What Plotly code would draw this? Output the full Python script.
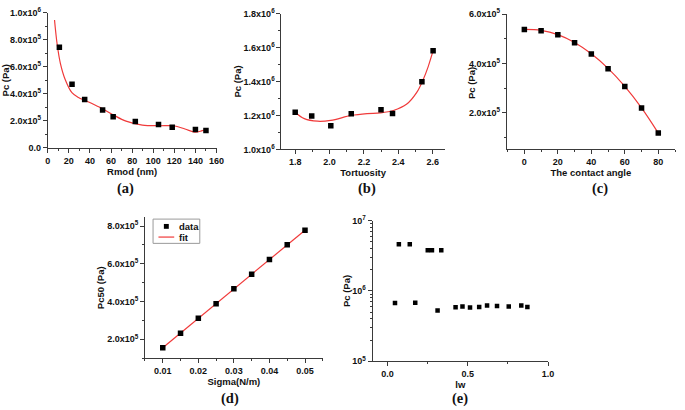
import plotly.graph_objects as go

W, H = 685, 410

# ---------------- data ----------------
# (a) Pc vs Rmod
rmod = [11, 23, 35, 52, 62, 83, 105, 118, 140, 150]
pc_a = [7.45e5, 4.7e5, 3.57e5, 2.8e5, 2.3e5, 1.95e5, 1.72e5, 1.52e5, 1.36e5, 1.28e5]
rmod_fit = [6.4, 8.9, 12, 16.6, 22.9, 29.1, 36.2, 49.3, 61.8, 74.2, 89.7, 105.2, 119.2, 130.1, 139.5, 145.7, 150.4]
pc_a_fit = [9.47e5, 7.67e5, 6.24e5, 5.04e5, 4.08e5, 3.72e5, 3.48e5, 3.0e5, 2.45e5, 1.97e5,
            1.68e5, 1.63e5, 1.63e5, 1.39e5, 1.15e5, 1.25e5, 1.39e5]

# (b) Pc vs tortuosity
tort = [1.80, 1.896, 2.007, 2.126, 2.299, 2.366, 2.537, 2.602]
pc_b = [1.219e6, 1.197e6, 1.139e6, 1.210e6, 1.233e6, 1.211e6, 1.398e6, 1.581e6]
tort_fit = [1.80, 1.853, 1.93, 2.007, 2.126, 2.218, 2.295, 2.371, 2.449, 2.506, 2.544, 2.573, 2.602]
pc_b_fit = [1.219e6, 1.181e6, 1.166e6, 1.171e6, 1.200e6, 1.211e6, 1.215e6, 1.229e6,
            1.267e6, 1.334e6, 1.410e6, 1.486e6, 1.581e6]

# (c) Pc vs contact angle
angle = [0, 10, 20, 30, 40, 50, 60, 70, 80]
pc_c = [5.38e5, 5.33e5, 5.16e5, 4.84e5, 4.38e5, 3.79e5, 3.07e5, 2.20e5, 1.18e5]
angle_fit = [0, 10, 20, 30, 40, 50, 60, 70, 80]
pc_c_fit = [5.38e5, 5.34e5, 5.17e5, 4.85e5, 4.39e5, 3.80e5, 3.07e5, 2.20e5, 1.18e5]

# (d) Pc50 vs sigma
sigma = [0.010, 0.015, 0.020, 0.025, 0.030, 0.035, 0.040, 0.045, 0.050]
pc50 = [1.55e5, 2.32e5, 3.11e5, 3.88e5, 4.67e5, 5.45e5, 6.22e5, 7.01e5, 7.78e5]
sigma_fit = [0.010, 0.050]
pc50_fit = [1.55e5, 7.78e5]

# (e) Pc vs lw (log scale)
lw = [0.047, 0.071, 0.139, 0.173, 0.251, 0.277, 0.312, 0.335, 0.424, 0.467,
      0.514, 0.571, 0.620, 0.682, 0.755, 0.833, 0.871]
pc_e = [6.73e5, 4.61e6, 4.61e6, 6.8e5, 3.78e6, 3.78e6, 5.27e5, 3.78e6, 5.86e5, 5.99e5,
        5.8e5, 5.92e5, 6.23e5, 6.1e5, 5.99e5, 6.23e5, 5.92e5]

# tick labels
ticks_a = [0, 2e5, 4e5, 6e5, 8e5, 1e6]
labels_a = ["0.0", "2.0x10<sup>5</sup>", "4.0x10<sup>5</sup>", "6.0x10<sup>5</sup>",
            "8.0x10<sup>5</sup>", "1.0x10<sup>6</sup>"]
ticks_b = [1.0e6, 1.2e6, 1.4e6, 1.6e6, 1.8e6]
labels_b = ["1.0x10<sup>6</sup>", "1.2x10<sup>6</sup>", "1.4x10<sup>6</sup>",
            "1.6x10<sup>6</sup>", "1.8x10<sup>6</sup>"]
ticks_c = [2e5, 4e5, 6e5]
labels_c = ["2.0x10<sup>5</sup>", "4.0x10<sup>5</sup>", "6.0x10<sup>5</sup>"]
ticks_d = [2e5, 4e5, 6e5, 8e5]
labels_d = ["2.0x10<sup>5</sup>", "4.0x10<sup>5</sup>", "6.0x10<sup>5</sup>", "8.0x10<sup>5</sup>"]
ticks_e = [1e5, 1e6, 1e7]
labels_e = ["10<sup>5</sup>", "10<sup>6</sup>", "10<sup>7</sup>"]
minor_e = [k * 1e5 for k in range(2, 10)] + [k * 1e6 for k in range(2, 10)]

RED = "#f03a3a"
AX = "#3a3a3a"
FONT = "Liberation Sans, Arial, sans-serif"
SERIF = "Liberation Serif, Times New Roman, serif"


def px_x(p):
    return p / W


def px_y(p):
    return 1 - p / H


TITLE_FONT = dict(family=FONT, size=9.5, color="#111", weight="bold")


def axis(domain, anchor, rng, title, standoff, **kw):
    d = dict(
        domain=domain, anchor=anchor, range=rng,
        showline=True, linecolor=AX, linewidth=1,
        ticks="outside", ticklen=4, tickwidth=1, tickcolor=AX,
        showgrid=False, zeroline=False,
        tickfont=dict(family=FONT, size=9, color="#111", weight="bold"),
        title=dict(text=title, standoff=standoff, font=TITLE_FONT),
    )
    d.update(kw)
    return d


def minor(dt=None, vals=None):
    m = dict(ticks="outside", ticklen=2, tickwidth=1, tickcolor=AX, showgrid=False)
    if dt is not None:
        m["dtick"] = dt
    if vals is not None:
        m["tickvals"] = vals
    return m


fig = go.Figure()

mk = dict(symbol="square", size=5.5, color="black")


def add(x, y, fx, fy, n, smooth=True):
    ax = "" if n == 1 else str(n)
    if fx is not None:
        fig.add_trace(go.Scatter(x=fx, y=fy, mode="lines", name="fit",
                                 line=dict(color=RED, width=1.2,
                                           shape="spline" if smooth else "linear", smoothing=1),
                                 xaxis="x" + ax, yaxis="y" + ax, showlegend=False))
    fig.add_trace(go.Scatter(x=x, y=y, mode="markers", name="data", marker=mk,
                             xaxis="x" + ax, yaxis="y" + ax, showlegend=False))


add(rmod, pc_a, rmod_fit, pc_a_fit, 1)
add(tort, pc_b, tort_fit, pc_b_fit, 2)
add(angle, pc_c, angle_fit, pc_c_fit, 3)
add(sigma, pc50, sigma_fit, pc50_fit, 4, smooth=False)
fig.add_trace(go.Scatter(x=lw, y=pc_e, mode="markers", name="data",
                         marker=dict(symbol="square", size=4.5, color="black"),
                         xaxis="x5", yaxis="y5", showlegend=False))

XS = 1  # x-title standoff
YS = 0  # y-title standoff
layout = dict(
    width=W, height=H, margin=dict(l=0, r=0, t=0, b=0),
    paper_bgcolor="white", plot_bgcolor="white", showlegend=False,
    xaxis=axis([px_x(45.5), px_x(217)], "y", [0, 160], "Rmod (nm)", XS,
               dtick=20, tick0=0, minor=minor(10)),
    yaxis=axis([px_y(145), px_y(6)], "x", [0, 1e6], "Pc (Pa)", YS,
               tickvals=ticks_a, ticktext=labels_a, minor=minor(1e5)),
    xaxis2=axis([px_x(283), px_x(449)], "y2", [1.72, 2.67], "Tortuosity", XS,
                dtick=0.2, tick0=1.8, tickformat=".1f", minor=minor(0.1)),
    yaxis2=axis([px_y(146.7), px_y(6.7)], "x2", [1.0e6, 1.8e6], "Pc (Pa)", YS,
                tickvals=ticks_b, ticktext=labels_b, minor=minor(1e5)),
    xaxis3=axis([px_x(512), px_x(683)], "y3", [-10.5, 90], "The contact angle", XS,
                dtick=20, tick0=0, minor=minor(10)),
    yaxis3=axis([px_y(146.7), px_y(7.3)], "x3", [0.52e5, 6.0e5], "", YS,
                tickvals=ticks_c, ticktext=labels_c, minor=minor(1e5)),
    xaxis4=axis([px_x(144.3), px_x(325)], "y4", [0.005, 0.055], "Sigma(N/m)", XS,
                dtick=0.01, tick0=0.01, tickformat=".2f", minor=minor(0.005)),
    yaxis4=axis([px_y(361.7), px_y(216.7)], "x4", [1.0e5, 8.46e5], "Pc50 (Pa)", YS,
                tickvals=ticks_d, ticktext=labels_d, minor=minor(1e5)),
    xaxis5=axis([px_x(375.7), px_x(554)], "y5", [-0.092, 1.0], "lw", 0,
                dtick=0.5, tick0=0, tickformat=".1f", minor=minor(0.25)),
    yaxis5=axis([px_y(365), px_y(220)], "x5", [5, 7], "Pc (Pa)", YS, type="log",
                tickvals=ticks_e, ticktext=labels_e, minor=minor(vals=minor_e)),
)
fig.update_layout(**layout)

# y title of panel (c): sits partly under its tick labels in the original
fig.add_annotation(text="Pc (Pa)", x=px_x(476), y=px_y(78), xref="paper", yref="paper",
                   showarrow=False, textangle=-90, xanchor="center", yanchor="middle",
                   font=TITLE_FONT)

# panel labels
for lab, x, y in [("(a)", 124, 187), ("(b)", 370, 187), ("(c)", 607, 187),
                  ("(d)", 231, 403), ("(e)", 464, 403)]:
    fig.add_annotation(text=lab, x=px_x(x), y=px_y(y), xref="paper", yref="paper",
                       showarrow=False, xanchor="center", yanchor="middle",
                       font=dict(family=SERIF, size=14.5, color="#111", weight="bold"))

# legend box for panel (d)
fig.add_shape(type="rect", xref="paper", yref="paper",
              x0=px_x(152.5), x1=px_x(200), y0=px_y(218.5), y1=px_y(243.5),
              line=dict(color="#9a9a9a", width=1), fillcolor="white")
fig.add_shape(type="rect", xref="paper", yref="paper",
              x0=px_x(163.5), x1=px_x(168.5), y0=px_y(223.5), y1=px_y(228.5),
              line=dict(width=0), fillcolor="black")
fig.add_shape(type="line", xref="paper", yref="paper",
              x0=px_x(158), x1=px_x(174), y0=px_y(237), y1=px_y(237),
              line=dict(color=RED, width=1.2))
for txt, yy in [("data", 226), ("fit", 237)]:
    fig.add_annotation(text=txt, x=px_x(176.5), y=px_y(yy), xref="paper", yref="paper",
                       showarrow=False, xanchor="left", yanchor="middle",
                       font=dict(family=FONT, size=9.5, color="#111", weight="bold"))

fig.write_html("out.html", config={"displayModeBar": False},
               post_script="document.body.style.margin='0';")
